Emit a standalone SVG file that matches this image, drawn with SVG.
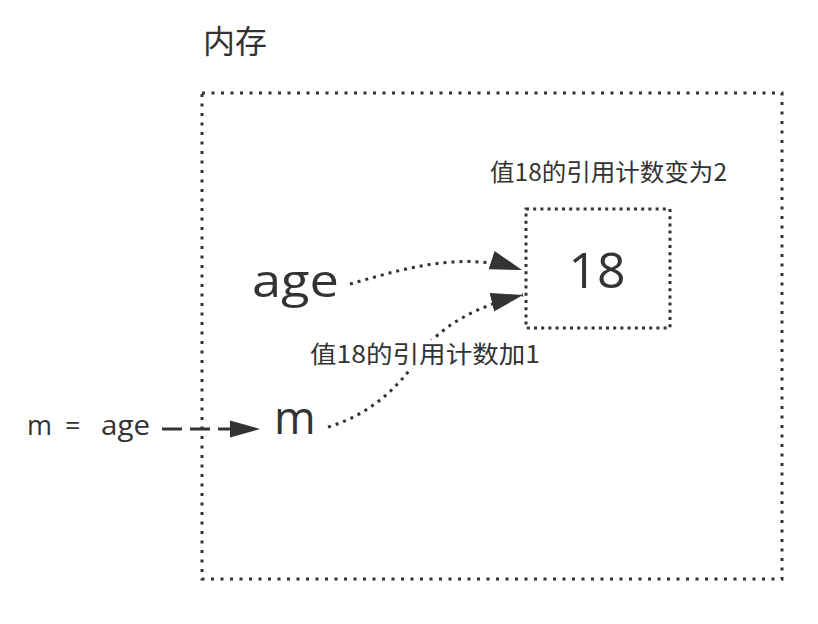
<svg xmlns="http://www.w3.org/2000/svg" width="818" height="624" viewBox="0 0 818 624">
  <style>
    .lat { font-family: "Open Sans", "Noto Sans", sans-serif; fill: #333; }
    .cjk { font-family: "Noto Sans CJK SC", "Noto Sans", sans-serif; fill: #333; }
    .dotbox { fill: none; stroke: #333; stroke-width: 3; }
    .dotline { fill: none; stroke: #333; stroke-width: 3; stroke-dasharray: 3 5; }
  </style>
  <defs>
    <marker id="arrow" markerUnits="userSpaceOnUse" markerWidth="32" markerHeight="20" viewBox="0 0 30 18" refX="30" refY="9" orient="auto">
      <path d="M0,0 L30,9 L0,18 Z" fill="#333"/>
    </marker>
  </defs>
  <rect width="818" height="624" fill="#fff"/>

  <g id="memory">
    <rect class="dotbox" x="202" y="93" width="580" height="486" stroke-dasharray="3 6.5"/>
    <text class="cjk" x="203" y="53" font-size="32">内存</text>
  </g>

  <g id="value18">
    <rect class="dotbox" x="526" y="209" width="144" height="119" stroke-dasharray="3 4.2"/>
    <text class="lat" x="597" y="288" font-size="50" text-anchor="middle">18</text>
  </g>

  <g id="label-top">
    <text class="cjk" x="490" y="181" font-size="24" textLength="237" lengthAdjust="spacingAndGlyphs">值18的引用计数变为2</text>
  </g>

  <g id="var-age">
    <text class="lat" x="252" y="297" font-size="46" textLength="87" lengthAdjust="spacingAndGlyphs">age</text>
  </g>

  <g id="var-m">
    <text class="lat" x="274" y="434" font-size="45">m</text>
  </g>

  <g id="stmt">
    <text class="lat" x="27" y="435" font-size="27">m <tspan x="65">=</tspan> <tspan x="101" textLength="49" lengthAdjust="spacingAndGlyphs">age</tspan></text>
  </g>

  <g id="connectors">
    <path class="dotline" d="M350,284 C400,270 460,250 522,270" marker-end="url(#arrow)"/>
    <path class="dotline" d="M328,427 Q385,410 420,355 C440,325 480,305 523,295" marker-end="url(#arrow)"/>
    <line x1="162" y1="429" x2="232" y2="429" stroke="#333" stroke-width="3" stroke-dasharray="20 8"/>
    <path d="M230,420.5 L260,429 L230,437.5 Z" fill="#333"/>
  </g>

  <g id="label-mid">
    <rect x="308" y="340" width="234" height="28" fill="#fff"/>
    <text class="cjk" x="310" y="363" font-size="24" textLength="230" lengthAdjust="spacingAndGlyphs">值18的引用计数加1</text>
  </g>
</svg>
